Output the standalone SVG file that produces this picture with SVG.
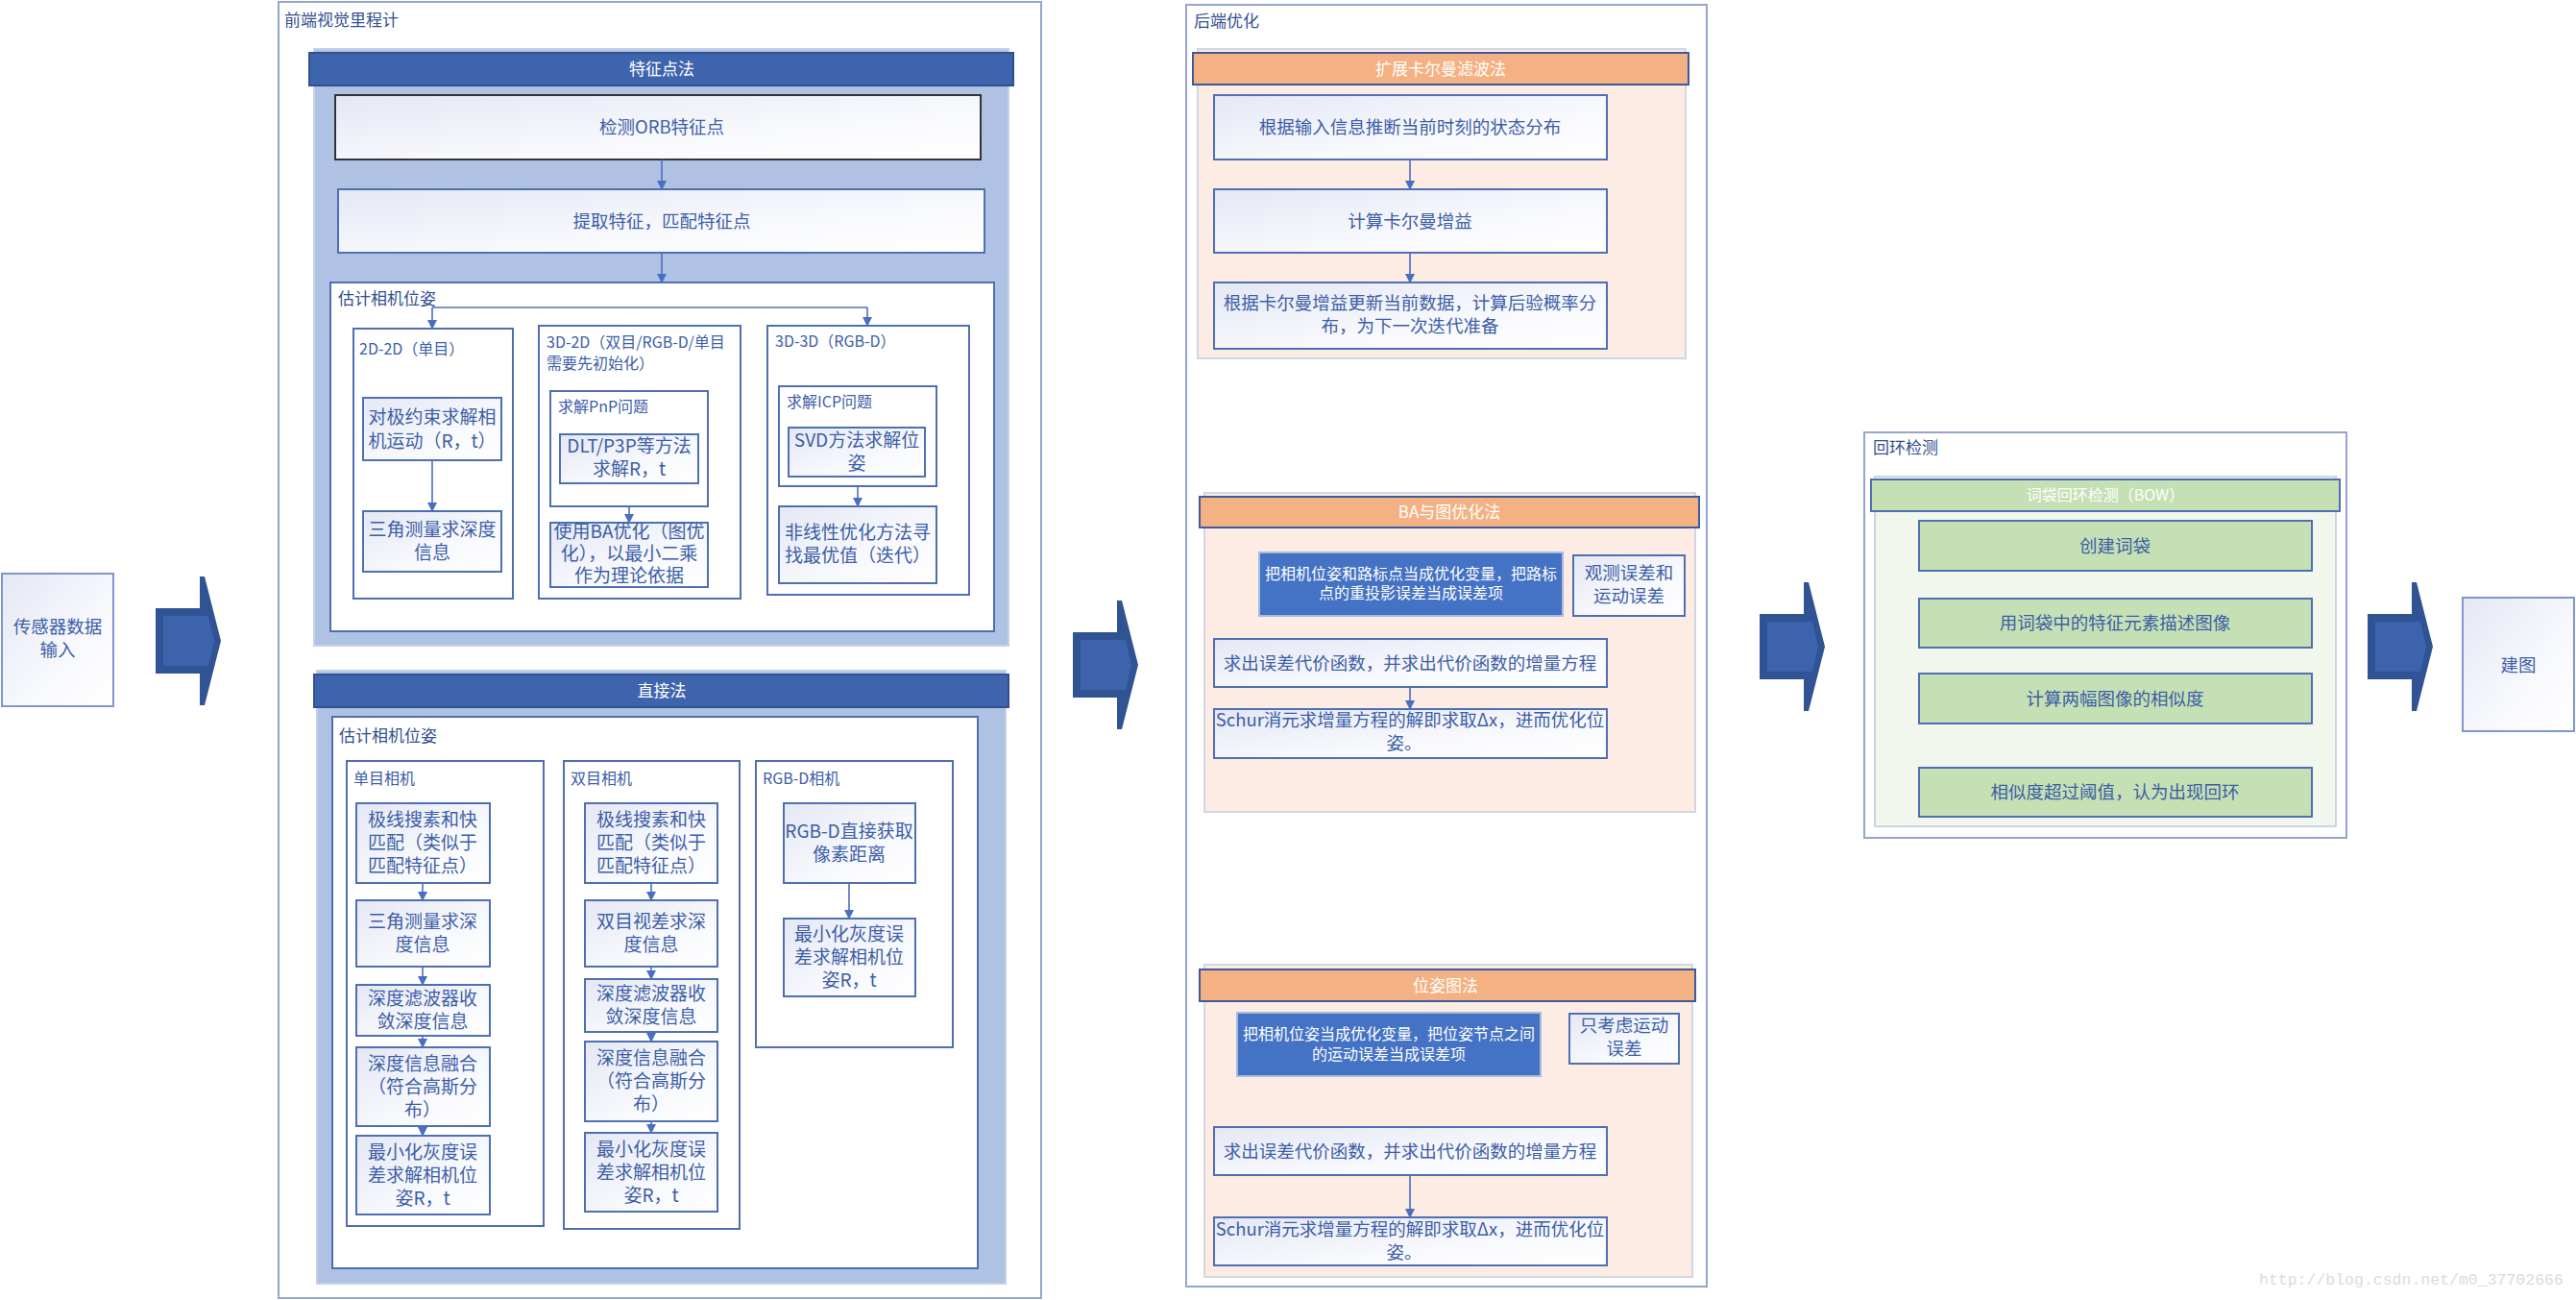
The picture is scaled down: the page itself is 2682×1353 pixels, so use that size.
<svg xmlns="http://www.w3.org/2000/svg" width="2682" height="1353" viewBox="0 0 2682 1353">
<defs>
<linearGradient id="wg" x1="0" y1="0" x2="1" y2="1">
<stop offset="0" stop-color="#E4E8F4"/>
<stop offset="0.6" stop-color="#F8F9FD"/>
<stop offset="1" stop-color="#FFFFFF"/>
</linearGradient>
<marker id="ah" viewBox="0 0 10 10" refX="9" refY="5" markerWidth="10" markerHeight="10" markerUnits="userSpaceOnUse" orient="auto">
<path d="M0,0 L10,5 L0,10 Z" fill="#4A6FBE"/>
</marker>
<g id="bigarrow">
<polygon points="0,-34 46,-34 46,-67 51,-67 68,0 51,67 46,67 46,34 0,34" fill="#2F5393"/>
<polygon points="8,-26 55,-26 61,0 55,26 8,26" fill="#3C63AC"/>
</g>
</defs>
<style>
text{font-family:"Noto Sans CJK SC","Noto Sans",sans-serif;}
.grp{fill:#FFFFFF;stroke:#94A6CB;stroke-width:2;}
.ttl{font-size:17px;fill:#34508F;}
.sub{font-size:16px;fill:#3D5EA6;}
.bluep{fill:#AFC2E4;stroke:#C4D0E8;stroke-width:2;}
.bhead{fill:#3F64AE;stroke:#2F528F;stroke-width:2;}
.htxt{font-size:17px;fill:#FFFFFF;text-anchor:middle;}
.wbox{fill:#FFFFFF;stroke:#4E6FB4;stroke-width:2;}
.gbox{fill:url(#wg);stroke:#4E6FB4;stroke-width:2;}
.t{font-size:18.5px;fill:#3D5EA6;text-anchor:middle;}
.t19{font-size:19px;fill:#3D5EA6;text-anchor:middle;}
.peach{fill:#FCECE3;stroke:#D3D6E2;stroke-width:2;}
.ohead{fill:#F4B183;stroke:#3D5A9C;stroke-width:2;}
.dbox{fill:#4472C4;stroke:#A8BBE0;stroke-width:2;}
.dtxt{font-size:16px;fill:#FFFFFF;text-anchor:middle;}
.greenp{fill:#F2F7EE;stroke:#CBD5E2;stroke-width:2;}
.ghead{fill:#C5E0B4;stroke:#4E6FB4;stroke-width:2;}
.gnbox{fill:#C5E0B4;stroke:#4E6FB4;stroke-width:2;}
.con{fill:none;stroke:#4A6FBE;stroke-width:1.6;}
.arr{marker-end:url(#ah);}
</style>
<rect width="2682" height="1353" fill="#FFFFFF"/>

<!-- Sensor input -->
<g id="sensor">
<rect x="2" y="597" width="116" height="138" class="gbox" style="stroke:#7F97C8"/>
<text class="t" x="60" y="659">传感器数据</text>
<text class="t" x="60" y="683">输入</text>
</g>

<!-- Frontend -->
<g id="frontend">
<rect x="290" y="2" width="794" height="1349" class="grp"/>
<text class="ttl" x="296" y="27">前端视觉里程计</text>
</g>

<g id="feature-method">
<rect x="327" y="51" width="723" height="621" class="bluep"/>
<rect x="322" y="55" width="733" height="34" class="bhead"/>
<text class="htxt" x="689" y="78">特征点法</text>
</g>
<g id="detect-orb">
<rect x="349" y="99" width="672" height="67" class="gbox" style="stroke:#333333"/>
<text class="t" x="689" y="139">检测ORB特征点</text>
</g>
<g id="extract">
<rect x="352" y="197" width="673" height="66" class="gbox"/>
<text class="t" x="689" y="237">提取特征，匹配特征点</text>
</g>
<g id="estimate1">
<rect x="344" y="294" width="691" height="363" class="wbox"/>
<text class="ttl" x="352" y="317">估计相机位姿</text>
</g>
<g id="d2d2">
<rect x="368" y="342" width="166" height="281" class="wbox"/>
<text class="sub" x="374" y="369">2D-2D（单目）</text>
</g>
<g id="epipolar">
<rect x="378" y="414" width="144" height="65" class="gbox"/>
<text class="t19" x="450" y="441">对极约束求解相</text>
<text class="t19" x="450" y="466">机运动（R，t）</text>
</g>
<g id="triang1">
<rect x="378" y="532" width="144" height="63" class="gbox"/>
<text class="t19" x="450" y="558">三角测量求深度</text>
<text class="t19" x="450" y="582">信息</text>
</g>
<g id="d3d2">
<rect x="561" y="339" width="210" height="284" class="wbox"/>
<text class="sub" x="569" y="362">3D-2D（双目/RGB-D/单目</text>
<text class="sub" x="569" y="384">需要先初始化）</text>
</g>
<g id="pnp">
<rect x="573" y="407" width="164" height="120" class="wbox"/>
<text class="sub" x="581" y="429">求解PnP问题</text>
</g>
<g id="dlt">
<rect x="583" y="452" width="144" height="51" class="gbox"/>
<text class="t19" x="655" y="471">DLT/P3P等方法</text>
<text class="t19" x="655" y="495">求解R，t</text>
</g>
<g id="ba-opt">
<rect x="573" y="544" width="164" height="67" class="gbox"/>
<text class="t19" x="655" y="560">使用BA优化（图优</text>
<text class="t19" x="655" y="583">化），以最小二乘</text>
<text class="t19" x="655" y="606">作为理论依据</text>
</g>
<g id="d3d3">
<rect x="799" y="339" width="210" height="280" class="wbox"/>
<text class="sub" x="807" y="361">3D-3D（RGB-D）</text>
</g>
<g id="icp">
<rect x="811" y="402" width="164" height="104" class="wbox"/>
<text class="sub" x="819" y="424">求解ICP问题</text>
</g>
<g id="svd">
<rect x="821" y="445" width="142" height="51" class="gbox"/>
<text class="t19" x="892" y="465">SVD方法求解位</text>
<text class="t19" x="892" y="489">姿</text>
</g>
<g id="nonlinear">
<rect x="811" y="527" width="164" height="80" class="gbox"/>
<text class="t19" x="893" y="561">非线性优化方法寻</text>
<text class="t19" x="893" y="585">找最优值（迭代）</text>
</g>

<g id="direct-method">
<rect x="330" y="698" width="717" height="638" class="bluep"/>
<rect x="327" y="702" width="723" height="34" class="bhead"/>
<text class="htxt" x="689" y="725">直接法</text>
</g>
<g id="estimate2">
<rect x="346" y="746" width="672" height="574" class="wbox"/>
<text class="ttl" x="353" y="772">估计相机位姿</text>
</g>
<g id="mono">
<rect x="361" y="792" width="205" height="484" class="wbox"/>
<text class="sub" x="368" y="816">单目相机</text>
</g>
<g id="mono1">
<rect x="371" y="836" width="139" height="83" class="gbox"/>
<text class="t19" x="440" y="860">极线搜素和快</text>
<text class="t19" x="440" y="884">匹配（类似于</text>
<text class="t19" x="440" y="908">匹配特征点）</text>
</g>
<g id="mono2">
<rect x="371" y="937" width="139" height="69" class="gbox"/>
<text class="t19" x="440" y="966">三角测量求深</text>
<text class="t19" x="440" y="990">度信息</text>
</g>
<g id="mono3">
<rect x="371" y="1025" width="139" height="53" class="gbox"/>
<text class="t19" x="440" y="1046">深度滤波器收</text>
<text class="t19" x="440" y="1070">敛深度信息</text>
</g>
<g id="mono4">
<rect x="371" y="1090" width="139" height="82" class="gbox"/>
<text class="t19" x="440" y="1114">深度信息融合</text>
<text class="t19" x="440" y="1138">（符合高斯分</text>
<text class="t19" x="440" y="1162">布）</text>
</g>
<g id="mono5">
<rect x="371" y="1182" width="139" height="82" class="gbox"/>
<text class="t19" x="440" y="1206">最小化灰度误</text>
<text class="t19" x="440" y="1230">差求解相机位</text>
<text class="t19" x="440" y="1254">姿R，t</text>
</g>
<g id="stereo">
<rect x="587" y="792" width="183" height="487" class="wbox"/>
<text class="sub" x="594" y="816">双目相机</text>
</g>
<g id="stereo1">
<rect x="609" y="836" width="138" height="83" class="gbox"/>
<text class="t19" x="678" y="860">极线搜素和快</text>
<text class="t19" x="678" y="884">匹配（类似于</text>
<text class="t19" x="678" y="908">匹配特征点）</text>
</g>
<g id="stereo2">
<rect x="609" y="937" width="138" height="69" class="gbox"/>
<text class="t19" x="678" y="966">双目视差求深</text>
<text class="t19" x="678" y="990">度信息</text>
</g>
<g id="stereo3">
<rect x="609" y="1019" width="138" height="55" class="gbox"/>
<text class="t19" x="678" y="1041">深度滤波器收</text>
<text class="t19" x="678" y="1065">敛深度信息</text>
</g>
<g id="stereo4">
<rect x="609" y="1084" width="138" height="83" class="gbox"/>
<text class="t19" x="678" y="1108">深度信息融合</text>
<text class="t19" x="678" y="1132">（符合高斯分</text>
<text class="t19" x="678" y="1156">布）</text>
</g>
<g id="stereo5">
<rect x="609" y="1179" width="138" height="82" class="gbox"/>
<text class="t19" x="678" y="1203">最小化灰度误</text>
<text class="t19" x="678" y="1227">差求解相机位</text>
<text class="t19" x="678" y="1251">姿R，t</text>
</g>
<g id="rgbd">
<rect x="787" y="792" width="205" height="298" class="wbox"/>
<text class="sub" x="794" y="816">RGB-D相机</text>
</g>
<g id="rgbd1">
<rect x="816" y="836" width="137" height="83" class="gbox"/>
<text class="t19" x="884" y="872">RGB-D直接获取</text>
<text class="t19" x="884" y="896">像素距离</text>
</g>
<g id="rgbd2">
<rect x="816" y="956" width="137" height="81" class="gbox"/>
<text class="t19" x="884" y="979">最小化灰度误</text>
<text class="t19" x="884" y="1003">差求解相机位</text>
<text class="t19" x="884" y="1027">姿R，t</text>
</g>

<!-- Backend -->
<g id="backend">
<rect x="1235" y="5" width="542" height="1334" class="grp"/>
<text class="ttl" x="1243" y="28">后端优化</text>
</g>
<g id="ekf">
<rect x="1247" y="51" width="508" height="322" class="peach"/>
<rect x="1242" y="55" width="516" height="33" class="ohead"/>
<text class="htxt" x="1500" y="78">扩展卡尔曼滤波法</text>
</g>
<g id="ekf1">
<rect x="1264" y="99" width="409" height="67" class="gbox"/>
<text class="t" x="1468" y="139">根据输入信息推断当前时刻的状态分布</text>
</g>
<g id="ekf2">
<rect x="1264" y="197" width="409" height="66" class="gbox"/>
<text class="t" x="1468" y="237">计算卡尔曼增益</text>
</g>
<g id="ekf3">
<rect x="1264" y="294" width="409" height="69" class="gbox"/>
<text class="t" x="1468" y="322">根据卡尔曼增益更新当前数据，计算后验概率分</text>
<text class="t" x="1468" y="346">布，为下一次迭代准备</text>
</g>
<g id="ba">
<rect x="1254" y="513" width="511" height="332" class="peach"/>
<rect x="1249" y="517" width="520" height="32" class="ohead"/>
<text class="htxt" x="1509" y="539">BA与图优化法</text>
</g>
<g id="ba1">
<rect x="1311" y="575" width="316" height="66" class="dbox"/>
<text class="dtxt" x="1469" y="603">把相机位姿和路标点当成优化变量，把路标</text>
<text class="dtxt" x="1469" y="623">点的重投影误差当成误差项</text>
</g>
<g id="ba-note">
<rect x="1638" y="578" width="116" height="63" class="gbox"/>
<text class="t" x="1696" y="603">观测误差和</text>
<text class="t" x="1696" y="627">运动误差</text>
</g>
<g id="ba2">
<rect x="1264" y="665" width="409" height="50" class="gbox"/>
<text class="t" x="1468" y="697">求出误差代价函数，并求出代价函数的增量方程</text>
</g>
<g id="ba3">
<rect x="1264" y="738" width="409" height="51" class="gbox"/>
<text class="t" x="1468" y="756">Schur消元求增量方程的解即求取Δx，进而优化位</text>
<text class="t" x="1462" y="780">姿。</text>
</g>
<g id="posegraph">
<rect x="1254" y="1004" width="508" height="325" class="peach"/>
<rect x="1249" y="1009" width="516" height="33" class="ohead"/>
<text class="htxt" x="1505" y="1032">位姿图法</text>
</g>
<g id="pg1">
<rect x="1288" y="1054" width="316" height="66" class="dbox"/>
<text class="dtxt" x="1446" y="1082">把相机位姿当成优化变量，把位姿节点之间</text>
<text class="dtxt" x="1446" y="1103">的运动误差当成误差项</text>
</g>
<g id="pg-note">
<rect x="1634" y="1055" width="114" height="52" class="gbox"/>
<text class="t" x="1691" y="1074">只考虑运动</text>
<text class="t" x="1691" y="1098">误差</text>
</g>
<g id="pg2">
<rect x="1264" y="1173" width="409" height="50" class="gbox"/>
<text class="t" x="1468" y="1205">求出误差代价函数，并求出代价函数的增量方程</text>
</g>
<g id="pg3">
<rect x="1264" y="1267" width="409" height="50" class="gbox"/>
<text class="t" x="1468" y="1286">Schur消元求增量方程的解即求取Δx，进而优化位</text>
<text class="t" x="1462" y="1310">姿。</text>
</g>

<!-- Loop detection -->
<g id="loop">
<rect x="1941" y="450" width="502" height="422" class="grp"/>
<text class="ttl" x="1950" y="472">回环检测</text>
</g>
<g id="bow">
<rect x="1952" y="496" width="480" height="364" class="greenp"/>
<rect x="1948" y="499" width="488" height="33" class="ghead"/>
<text class="htxt" x="2192" y="521" style="font-size:16px">词袋回环检测（BOW）</text>
</g>
<g id="bow1">
<rect x="1998" y="542" width="409" height="52" class="gnbox"/>
<text class="t" x="2202" y="575">创建词袋</text>
</g>
<g id="bow2">
<rect x="1998" y="623" width="409" height="51" class="gnbox"/>
<text class="t" x="2202" y="655">用词袋中的特征元素描述图像</text>
</g>
<g id="bow3">
<rect x="1998" y="701" width="409" height="52" class="gnbox"/>
<text class="t" x="2202" y="734">计算两幅图像的相似度</text>
</g>
<g id="bow4">
<rect x="1998" y="799" width="409" height="51" class="gnbox"/>
<text class="t" x="2202" y="831">相似度超过阈值，认为出现回环</text>
</g>

<!-- Mapping -->
<g id="mapping">
<rect x="2564" y="622" width="116" height="139" class="gbox" style="stroke:#7F97C8"/>
<text class="t" x="2622" y="699">建图</text>
</g>

<!-- Connectors -->
<g id="connectors">
<use href="#bigarrow" x="162" y="667"/>
<use href="#bigarrow" x="1117" y="692"/>
<use href="#bigarrow" x="1832" y="673"/>
<use href="#bigarrow" x="2465" y="673"/>
<path class="con arr" d="M689,166 V197"/>
<path class="con arr" d="M689,263 V294"/>
<path class="con" d="M450,320 H903"/>
<path class="con arr" d="M450,320 V342"/>
<path class="con arr" d="M903,320 V339"/>
<path class="con arr" d="M450,479 V532"/>
<path class="con arr" d="M655,527 V544"/>
<path class="con arr" d="M893,506 V527"/>
<path class="con arr" d="M440,919 V937"/>
<path class="con arr" d="M440,1006 V1025"/>
<path class="con arr" d="M440,1078 V1090"/>
<path class="con arr" d="M440,1172 V1182"/>
<path class="con arr" d="M678,919 V937"/>
<path class="con arr" d="M678,1006 V1019"/>
<path class="con arr" d="M678,1074 V1084"/>
<path class="con arr" d="M678,1167 V1179"/>
<path class="con arr" d="M884,919 V956"/>
<path class="con arr" d="M1468,166 V197"/>
<path class="con arr" d="M1468,263 V294"/>
<path class="con arr" d="M1468,715 V738"/>
<path class="con arr" d="M1468,1223 V1267"/>
</g>

<text x="2352" y="1337" style="font-family:'Liberation Mono',monospace;font-size:16.5px;fill:#DCDCD4">http://blog.csdn.net/m0_37702666</text>
</svg>
